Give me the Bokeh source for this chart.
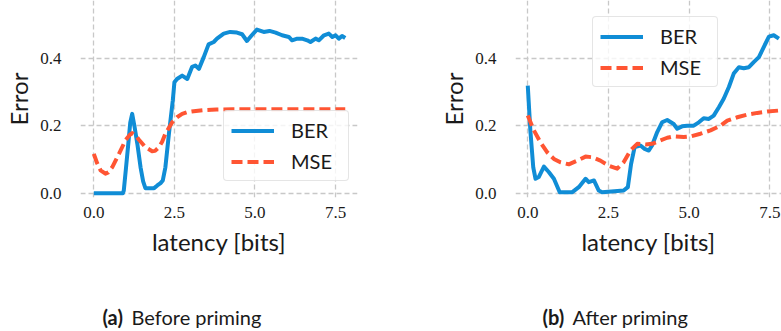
from bokeh.plotting import figure
from bokeh.layouts import row, column
from bokeh.models import FixedTicker, NumeralTickFormatter, Legend, LegendItem, Range1d, ColumnDataSource
from bokeh.core.properties import value
from bokeh.embed import file_html
from bokeh.resources import INLINE

# ---------------- data ----------------
a_ber_x = [0, 0.9, 0.93, 1.0, 1.07, 1.13, 1.19, 1.26, 1.35, 1.45, 1.53, 1.6, 1.75, 1.87,
           1.97, 2.07, 2.14, 2.22, 2.33, 2.45, 2.5, 2.58, 2.74, 2.9, 3.05, 3.15, 3.26, 3.41,
           3.56, 3.72, 3.82, 4.03, 4.23, 4.44, 4.6, 4.75, 4.9, 5.06, 5.27, 5.45, 5.64, 5.84,
           6.05, 6.15, 6.31, 6.46, 6.62, 6.72, 6.88, 6.98, 7.14, 7.29, 7.4, 7.5, 7.6, 7.7, 7.8]
a_ber_y = [0, 0, 0.008, 0.077, 0.147, 0.21, 0.236, 0.2, 0.147, 0.077, 0.035, 0.015, 0.015, 0.015,
           0.023, 0.03, 0.038, 0.077, 0.177, 0.276, 0.33, 0.34, 0.35, 0.34, 0.376, 0.38, 0.37, 0.405,
           0.443, 0.45, 0.46, 0.475, 0.48, 0.478, 0.473, 0.453, 0.47, 0.487, 0.48, 0.483, 0.478, 0.47,
           0.465, 0.455, 0.46, 0.46, 0.455, 0.45, 0.46, 0.455, 0.47, 0.475, 0.465, 0.47, 0.46, 0.468, 0.462]

a_mse_x = [0, 0.1, 0.21, 0.36, 0.45, 0.57, 0.78, 0.98, 1.1, 1.19, 1.3, 1.4, 1.6, 1.81, 1.9,
           2.02, 2.12, 2.22, 2.33, 2.43, 2.58, 2.74, 2.9, 3.1, 3.4, 3.8, 4.3, 5.0, 6.0, 7.0, 7.8]
a_mse_y = [0.117, 0.09, 0.068, 0.058, 0.062, 0.077, 0.117, 0.157, 0.172, 0.179, 0.172, 0.159,
           0.137, 0.125, 0.126, 0.137, 0.153, 0.177, 0.195, 0.211, 0.226, 0.236, 0.241, 0.244,
           0.247, 0.249, 0.25, 0.25, 0.25, 0.25, 0.25]

b_ber_x = [0, 0.08, 0.17, 0.24, 0.34, 0.5, 0.65, 0.81, 0.99, 1.38, 1.58, 1.79, 1.89, 2.05, 2.2,
           2.3, 2.97, 3.1, 3.2, 3.31, 3.49, 3.62, 3.75, 3.85, 4.01, 4.16, 4.32, 4.52, 4.63, 4.78,
           4.94, 5.14, 5.3, 5.45, 5.61, 5.76, 5.92, 6.07, 6.23, 6.38, 6.54, 6.69, 6.85, 7.0, 7.16,
           7.31, 7.47, 7.62, 7.78]
b_ber_y = [0.32, 0.187, 0.077, 0.043, 0.048, 0.079, 0.063, 0.043, 0.003, 0.003, 0.018, 0.043,
           0.033, 0.038, 0.008, 0.003, 0.008, 0.018, 0.087, 0.137, 0.142, 0.132, 0.127, 0.142,
           0.182, 0.211, 0.218, 0.206, 0.192, 0.199, 0.201, 0.201, 0.211, 0.223, 0.221, 0.231,
           0.256, 0.281, 0.316, 0.356, 0.375, 0.372, 0.375, 0.39, 0.405, 0.435, 0.466, 0.47, 0.46]

b_mse_x = [0, 0.19, 0.39, 0.6, 0.81, 1.01, 1.27, 1.53, 1.79, 2.0, 2.25, 2.51, 2.77, 2.97, 3.18,
           3.39, 3.65, 3.85, 4.11, 4.32, 4.52, 4.83, 5.04, 5.35, 5.66, 5.97, 6.18, 6.49, 6.8,
           7.11, 7.42, 7.78]
b_mse_y = [0.231, 0.187, 0.152, 0.122, 0.102, 0.092, 0.086, 0.097, 0.109, 0.107, 0.097, 0.082,
           0.073, 0.092, 0.127, 0.147, 0.145, 0.147, 0.157, 0.165, 0.169, 0.167, 0.169, 0.177,
           0.187, 0.201, 0.216, 0.226, 0.234, 0.239, 0.243, 0.246]

x_ticks = [0, 2.5, 5.0, 7.5]
y_ticks = [0, 0.2, 0.4]
series_names = ["BER", "MSE"]
cap_tags = ["(a)", "(b)"]
cap_texts = ["Before priming", "After priming"]

BLUE = "#108DD6"
ORANGE = "#FF5533"
TXT = "#1a1a1a"
SANS = "Lato"
SERIF = "Liberation Serif"
PANEL_H = 300
FRAME_H = 197


def make_panel(ber_x, ber_y, mse_x, mse_y, width, border_left, frame_w, x_start, x_end, legend_loc):
    p = figure(width=width, height=PANEL_H, output_backend="svg", toolbar_location=None,
               x_range=Range1d(x_start, x_end), y_range=Range1d(-0.0128, 0.5735),
               min_border_left=border_left, min_border_right=width - border_left - frame_w,
               min_border_top=0, min_border_bottom=PANEL_H - FRAME_H)
    p.outline_line_color = None
    p.background_fill_color = "white"
    p.border_fill_color = "white"

    r1 = p.line(ber_x, ber_y, line_color=BLUE, line_width=4, line_join="round")
    r2 = p.line(mse_x, mse_y, line_color=ORANGE, line_width=4, line_dash="11 5", line_join="round")

    for ax in (p.xaxis[0], p.yaxis[0]):
        ax.axis_line_color = None
        ax.major_tick_line_color = None
        ax.minor_tick_line_color = None
        ax.major_tick_out = 0
        ax.major_tick_in = 0
        ax.major_label_text_font = SERIF
        ax.major_label_text_font_size = "17px"
        ax.major_label_text_color = TXT
        ax.axis_label_text_font = SANS
        ax.axis_label_text_font_size = "24px"
        ax.axis_label_text_font_style = "normal"
        ax.axis_label_text_color = TXT
        ax.formatter = NumeralTickFormatter(format="0.0")

    p.xaxis[0].ticker = FixedTicker(ticks=x_ticks)
    p.yaxis[0].ticker = FixedTicker(ticks=y_ticks)
    p.xaxis[0].axis_label = "latency [bits]"
    p.yaxis[0].axis_label = "Error"
    p.xaxis[0].major_label_standoff = 9
    p.xaxis[0].axis_label_standoff = 6
    p.yaxis[0].major_label_standoff = 19
    p.yaxis[0].axis_label_standoff = 4

    for g in (p.xgrid[0], p.ygrid[0]):
        g.grid_line_color = "#c8c8c8"
        g.grid_line_dash = "5 3"
        g.grid_line_width = 1.3

    legend = Legend(items=[LegendItem(label=series_names[0], renderers=[r1]),
                           LegendItem(label=series_names[1], renderers=[r2])],
                    location=legend_loc)
    legend.label_text_font = SANS
    legend.label_text_font_size = "20px"
    legend.label_text_color = TXT
    legend.glyph_width = 43
    legend.glyph_height = 23
    legend.label_height = 23
    legend.label_width = 50
    legend.label_standoff = 17
    legend.spacing = 7
    legend.padding = 7
    legend.margin = 0
    legend.border_line_color = "#cccccc"
    legend.border_line_width = 1
    legend.background_fill_color = "white"
    legend.background_fill_alpha = 0.8
    legend.border_radius = 4
    p.add_layout(legend, "center")
    return p


p1 = make_panel(a_ber_x, a_ber_y, a_mse_x, a_mse_y, 398, 80, 277, -0.413, 8.18, (143, 16))
p2 = make_panel(b_ber_x, b_ber_y, b_mse_x, b_mse_y, 383, 117, 266, -0.38, 7.86, (77, 110))

# caption strip (pixel coordinates)
CAP_W, CAP_H = 781, 31
cap = figure(width=CAP_W, height=CAP_H, output_backend="svg", toolbar_location=None, title=None,
             x_range=Range1d(0, CAP_W), y_range=Range1d(0, CAP_H),
             x_axis_location=None, y_axis_location=None,
             min_border_left=0, min_border_right=0, min_border_top=0, min_border_bottom=0)
cap.outline_line_color = None
cap.xgrid.visible = False
cap.ygrid.visible = False
tag_src = ColumnDataSource(dict(x=[102, 542], y=[15, 15], t=cap_tags))
txt_src = ColumnDataSource(dict(x=[131, 572], y=[15, 15], t=cap_texts))
cap.text(x="x", y="y", text="t", source=tag_src, text_font=value(SANS), text_font_style="bold",
         text_font_size="20px", text_color=TXT, text_baseline="middle", text_align="left")
cap.text(x="x", y="y", text="t", source=txt_src, text_font=value(SANS),
         text_font_size="20px", text_color=TXT, text_baseline="middle", text_align="left")

layout = column(row(p1, p2), cap)
open("out.html", "w").write(file_html(layout, INLINE))
